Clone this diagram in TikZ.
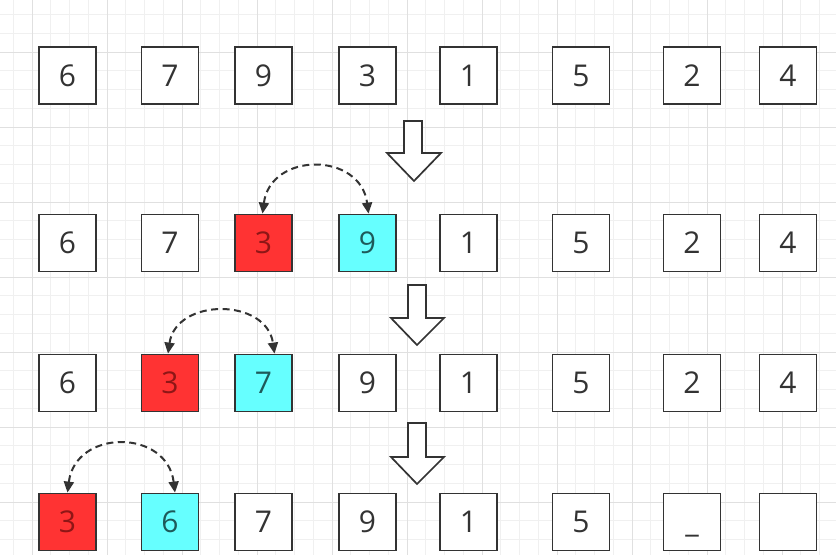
\documentclass[tikz,border=0pt]{standalone}
\usepackage{fontspec}
\setmainfont{Open Sans}
\usetikzlibrary{arrows.meta}
\definecolor{ink}{HTML}{333333}
\definecolor{cellred}{HTML}{FF3333}
\definecolor{cellcyan}{HTML}{66FFFF}
\definecolor{redtext}{HTML}{8E1616}
\definecolor{cyantext}{HTML}{1E5A5A}
\definecolor{gridminor}{HTML}{F0F0F0}
\definecolor{gridmajor}{HTML}{E0E0E0}
\begin{document}
\begin{tikzpicture}[x=1pt,y=-1pt,
  cell/.style={draw=ink, line width=1.8pt, minimum size=57pt, inner sep=0pt, fill=white,
    font=\fontsize{30}{31}\selectfont, text=ink, text height=21.5pt, text depth=0pt},
  redcell/.style={cell, fill=cellred, text=redtext},
  cyancell/.style={cell, fill=cellcyan, text=cyantext},
  swaparrow/.style={draw=ink, line width=2pt, dash pattern=on 7pt off 4.5pt,
    {Triangle[length=11pt,width=10pt]}-{Triangle[length=11pt,width=10pt]}},
  bigarrow/.style={draw=ink, line width=1.7pt, fill=white, line join=miter},
  minorline/.style={draw=gridminor, line width=0.7pt},
  majorline/.style={draw=gridmajor, line width=0.8pt}]
\useasboundingbox (0,0) rectangle (836,555);
\fill[white] (0,0) rectangle (836,555);
% grid
\foreach \i in {0,...,44} \draw[minorline] ({13.25+18.75*\i},0) -- ({13.25+18.75*\i},555);
\foreach \j in {0,...,29} \draw[minorline] (0,{14.5+18.75*\j}) -- (836,{14.5+18.75*\j});
\foreach \i in {0,...,10} \draw[majorline] ({32+75*\i},0) -- ({32+75*\i},555);
\foreach \j in {0,...,6} \draw[majorline] (0,{52+75*\j}) -- (836,{52+75*\j});
% row 1
\foreach \x/\v/\s [count=\c] in {67.5/6/cell,170/7/cell,263.5/9/cell,367.5/3/cell,468.5/1/cell,581/5/cell,692/2/cell,788/4/cell}
  \node[\s] (r1c\c) at (\x,75.5) {\v};
% row 2
\foreach \x/\v/\s [count=\c] in {67.5/6/cell,170/7/cell,263.5/3/redcell,367.5/9/cyancell,468.5/1/cell,581/5/cell,692/2/cell,788/4/cell}
  \node[\s] (r2c\c) at (\x,243) {\v};
% row 3
\foreach \x/\v/\s [count=\c] in {67.5/6/cell,170/3/redcell,263.5/7/cyancell,367.5/9/cell,468.5/1/cell,581/5/cell,692/2/cell,788/4/cell}
  \node[\s] (r3c\c) at (\x,383) {\v};
% row 4
\foreach \x/\v/\s [count=\c] in {67.5/3/redcell,170/6/cyancell,263.5/7/cell,367.5/9/cell,468.5/1/cell,581/5/cell,692/\_/cell,788/{}/cell}
  \node[\s] (r4c\c) at (\x,522) {\v};
% big down arrows
\draw[bigarrow] (404,121) -- (422,121) -- (422,153) -- (441,153) -- (414,181) -- (387,153) -- (404,153) -- cycle;
\draw[bigarrow] (408,285) -- (426,285) -- (426,318) -- (444,318) -- (417,345) -- (391,318) -- (408,318) -- cycle;
\draw[bigarrow] (408,423) -- (426,423) -- (426,457) -- (444,457) -- (417,484) -- (391,457) -- (408,457) -- cycle;
% swap arrows
\draw[swaparrow] ([xshift=-1pt]r2c3.north) .. controls +(8,-62) and +(-8,-62) .. ([xshift=1pt]r2c4.north);
\draw[swaparrow] ([xshift=-2pt]r3c2.north) .. controls +(8,-56) and +(-8,-56) .. ([xshift=11pt]r3c3.north);
\draw[swaparrow] ([xshift=0pt]r4c1.north) .. controls +(8,-64) and +(-8,-64) .. ([xshift=5pt]r4c2.north);
\end{tikzpicture}
\end{document}
